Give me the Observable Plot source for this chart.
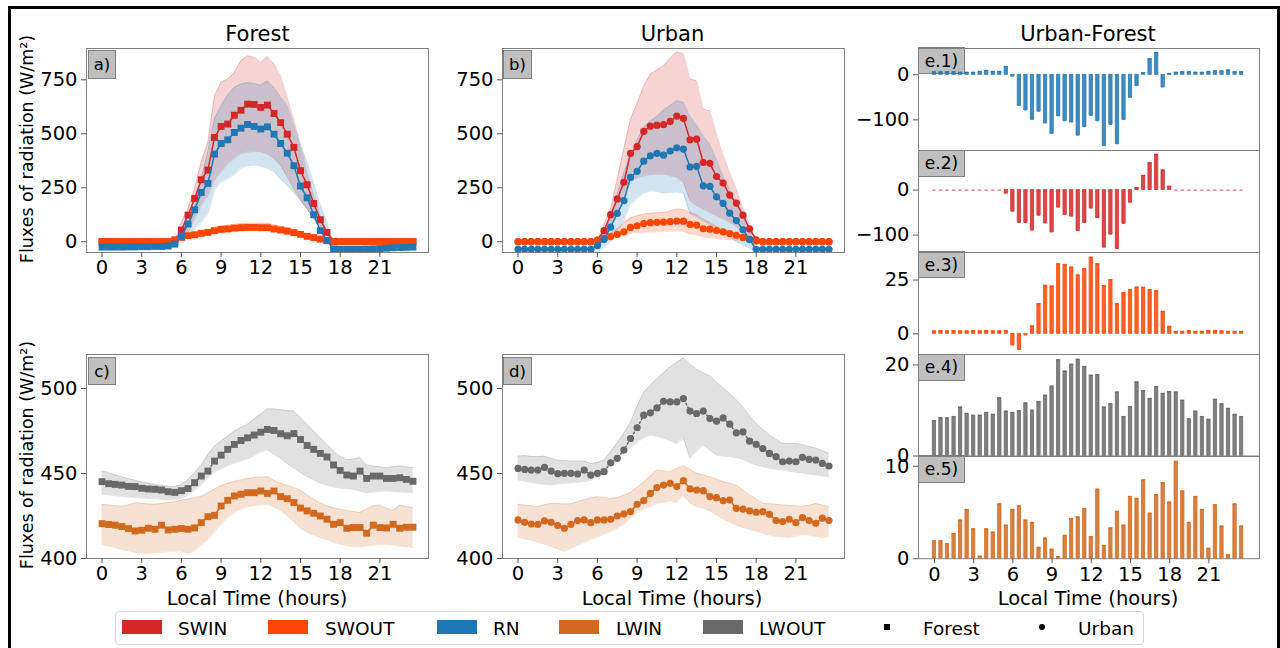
<!DOCTYPE html>
<html><head><meta charset="utf-8">
<script src="https://cdn.jsdelivr.net/npm/d3@7"></script>
<script src="https://cdn.jsdelivr.net/npm/@observablehq/plot@0.6"></script>
<style>
body{margin:0;background:#fff;}
#fig{position:relative;width:1280px;height:648px;overflow:hidden;background:#fff;font-family:"DejaVu Sans",sans-serif;color:#000;}
.lbl{position:absolute;background:#bfbfbf;border:1px solid #808080;box-sizing:border-box;font-size:17px;display:flex;align-items:center;justify-content:center;}
.t{position:absolute;white-space:nowrap;transform:translate(-50%,-50%);}
</style></head><body><div id="fig"></div>
<script>
// ---------- data ----------
const hours = [0,0.5,1,1.5,2,2.5,3,3.5,4,4.5,5,5.5,6,6.5,7,7.5,8,8.5,9,9.5,10,10.5,11,11.5,12,12.5,13,13.5,14,14.5,15,15.5,16,16.5,17,17.5,18,18.5,19,19.5,20,20.5,21,21.5,22,22.5,23,23.5];
const xTickValues = [0,3,6,9,12,15,18,21];

// Forest shortwave / net radiation
const forestSWIN   = [0,0,0,0,0,0,0,0,0,0,0,2, 54,123,200,287,332,483,534,545,586,609,637,636,622,633,594,552,498,437,329,264,177,102,43,2, 0,0,0,0,0,0,0,0,0,0,0,0];
const forestSWINlo = [0,0,0,0,0,0,0,0,0,0,0,0, 10,43,105,167,213,282,321,360,385,408,415,418,417,405,385,352,300,244,195,151,110,74,28,0, 0,0,0,0,0,0,0,0,0,0,0,0];
const forestSWINhi = [0,0,0,0,0,0,0,0,0,0,0,5, 90,155,244,370,460,676,738,753,784,838,861,853,830,858,822,768,668,568,444,321,213,120,43,5, 0,0,0,0,0,0,0,0,0,0,0,0];
const forestSWOUT   = [0,0,0,0,0,0,0,0,0,0,0,9, 20,28,32,39,43,51,57,59,63,65,66,66,65,65,59,54,49,42,34,25,19,12,5,0, 0,0,0,0,0,0,0,0,0,0,0,0];
const forestSWOUTlo = [0,0,0,0,0,0,0,0,0,0,0,6, 15,22,26,31,34,40,45,47,50,52,53,53,53,52,47,43,38,33,27,20,14,9,3,0, 0,0,0,0,0,0,0,0,0,0,0,0];
const forestSWOUThi = [0,0,0,0,0,0,0,0,0,0,0,12, 26,36,42,50,56,66,73,76,80,84,86,86,86,85,78,72,66,57,46,34,26,17,8,2, 0,0,0,0,0,0,0,0,0,0,0,0];
const forestRN   = [-25,-25,-25,-25,-24,-24,-23,-23,-22,-22,-20,-11, 25,82,148,228,270,406,455,472,506,526,543,534,522,532,498,455,410,352,258,203,125,51,5,-34, -36,-36,-36,-36,-35,-34,-32,-30,-28,-27,-26,-25];
const forestRNlo = [-33,-33,-33,-33,-32,-32,-31,-31,-30,-30,-29,-25, -10,12,55,90,128,240,275,290,310,340,352,355,350,340,325,290,260,228,190,151,105,59,10,-42, -45,-45,-45,-45,-44,-43,-41,-39,-37,-35,-34,-33];
const forestRNhi = [-17,-17,-17,-17,-16,-16,-15,-15,-14,-14,-12,0, 40,89,167,290,420,570,630,680,715,730,737,732,725,745,714,670,630,540,450,367,270,170,90,-20, -27,-27,-27,-27,-26,-25,-23,-21,-19,-18,-17,-17];

// Urban shortwave / net radiation
const urbanSWIN   = [0,0,0,0,0,0,0,0,0,0,0,0, 8,51,125,198,275,409,440,511,535,540,542,557,582,571,472,475,367,363,302,272,216,179,123,59, 9,0,0,0,0,0,0,0,0,0,0,0];
const urbanSWINlo = [0,0,0,0,0,0,0,0,0,0,0,0, 0,20,74,140,210,275,295,305,310,312,313,305,298,275,190,165,151,135,120,105,90,70,51,25, 0,0,0,0,0,0,0,0,0,0,0,0];
const urbanSWINhi = [0,0,0,0,0,0,0,0,0,0,0,0, 10,80,151,290,430,568,640,720,776,795,815,850,880,869,755,745,614,606,498,400,320,244,160,80, 5,0,0,0,0,0,0,0,0,0,0,0];
const urbanSWOUT   = [0,0,0,0,0,0,0,0,0,0,0,0, 8,15,24,34,46,66,74,84,88,90,91,93,96,95,80,77,60,58,52,46,38,30,20,11, 3,0,0,0,0,0,0,0,0,0,0,0];
const urbanSWOUTlo = [0,0,0,0,0,0,0,0,0,0,0,0, 4,8,12,18,28,38,42,43,45,46,46,48,51,48,35,30,22,18,15,12,9,6,4,2, 0,0,0,0,0,0,0,0,0,0,0,0];
const urbanSWOUThi = [0,0,0,0,0,0,0,0,0,0,0,0, 12,25,40,60,89,110,120,128,132,134,136,142,151,148,136,125,105,90,72,59,48,38,28,18, 8,0,0,0,0,0,0,0,0,0,0,0];
const urbanRN   = [-35,-35,-35,-35,-35,-35,-35,-35,-35,-35,-35,-35, -18,10,68,131,190,298,326,373,398,409,401,420,435,429,346,349,259,256,208,178,132,98,55,10, -35,-35,-35,-35,-35,-35,-35,-35,-35,-35,-35,-35];
const urbanRNlo = [-40,-40,-40,-40,-40,-40,-40,-40,-40,-40,-40,-40, -45,-30,0,40,100,170,200,225,235,232,225,228,230,225,130,115,95,80,60,40,20,0,-15,-30, -45,-40,-40,-40,-40,-40,-40,-40,-40,-40,-40,-40];
const urbanRNhi = [-30,-30,-30,-30,-30,-30,-30,-30,-30,-30,-30,-30, -10,40,120,220,320,400,470,530,560,580,610,630,653,645,580,540,491,450,380,305,240,175,105,51, -28,-30,-30,-30,-30,-30,-30,-30,-30,-30,-30,-30];

// Longwave
const forestLWOUT   = [445.2,444,443.6,443.2,442.4,442.3,441.3,440.9,440.7,440.3,439.3,438.9,439.9,441.1,444.6,448.5,451.4,457.3,460.8,464.2,467.1,469.4,471.0,472.6,474.3,475.9,475.3,473.4,472.2,473.5,470.0,466.5,464.2,461.8,459.7,455.0,451.8,449.1,448.5,451.4,447.1,448.5,448.5,447.1,447.1,447.5,446.5,445.4];
const forestLWOUTlo = [437.8,437.4,437,436.6,436.2,435.9,435.6,435.3,435.1,434.8,434.6,434.4,435.5,437.3,440,443,447,450.8,452.8,454.6,456,457.3,458.6,460.5,462.6,463.8,461.2,458.8,455.8,452.9,450.5,448.1,446.2,444.3,443.2,442.1,441.4,441,440.6,439.5,438.7,439,439.4,439.7,439.4,439.1,438.9,438.7];
const forestLWOUThi = [451.4,450.5,449.2,448,447,446,445,444.2,443.5,443,442.5,442.2,443.5,446.5,450.5,455,461,466,469,472,475,477,479,482,485,488,488,487.5,487,486.7,483,479,475,471,467,463,460,458,458.5,459.3,455,454.4,454,453.4,454,454.4,453.8,453.4];
const forestLWIN   = [420.5,420,419.6,418.8,417.6,416.2,416.6,417.8,417.2,419.6,416.8,417.2,417.6,417.2,418.0,421.1,424.6,425.4,430.9,434.2,436.8,437.8,438.7,438.7,439.7,438.3,439.7,436.4,435.2,432.9,429.7,428.0,426.6,425.0,423.1,420.1,421.1,417.8,418.2,418.2,414.9,419.6,418.2,418.0,420.1,417.8,418.4,418.4];
const forestLWINlo = [408.4,407.4,406.4,405.3,404.5,403.6,402.9,403.1,403.3,403.5,403.9,404.3,404.4,402.8,404.3,407.6,411,415.7,419.9,423.9,427.2,428.8,430.3,431.1,431.6,431.7,430.4,428.2,425.3,421.7,417.8,415.3,413.8,412.3,411,409.7,408.4,407.6,406.8,406.8,407.4,407.8,408.2,408.2,407.8,407.4,406.9,406.5];
const forestLWINhi = [431.9,431.5,431,430.8,431.5,432.8,432.5,432,431.9,432.3,432.8,433.3,434.2,435,435.8,436.6,438.5,440.8,442.8,444.2,445.4,446.2,447,447.6,447.8,448.1,446,444.2,443,441.8,440.2,437.5,435,432.5,431,429.8,428.9,428.2,427.6,427,429,431,431.5,429.5,428.2,431.5,430.5,429.9];

const urbanLWOUT   = [453.0,452.4,452.0,452.0,453.6,451.4,449.9,450.1,450.1,449.7,452.0,449.1,450.1,451.1,456.3,458.9,463.8,470.6,476.9,484.3,485.7,488.6,492.5,492.1,492.1,494.1,486.7,485.3,486.7,482.3,480.8,482.7,479.0,473.9,474.5,469.0,467.1,464.7,461.8,459.9,456.9,457.3,456.9,459.5,458.3,457.9,455.9,454.4];
const urbanLWOUTlo = [446.2,445.5,444.8,444.1,443.6,443.3,443.8,444.2,444.4,444.8,445.3,446,447.5,449.9,453.8,457.7,461.6,465.3,468.2,471,472.5,471.9,470.7,469.2,467.7,470.6,458.9,462.8,466.7,463.7,460.8,460.3,459.9,459.3,458.3,456.6,455,454,453,452.5,452,451.4,450.8,450.2,449.6,449.1,448.6,448.1];
const urbanLWOUThi = [460.2,460.5,460,459.9,460.2,459,457.8,457.5,457.3,457.3,457.3,455.9,456.5,457.8,462.8,467.9,473.7,480.2,489.5,497.8,501.8,505.8,509.2,512.7,515.4,518,514.6,511.3,509.3,507.5,503.8,500.5,497,493.5,489.1,484.2,479.4,476,472.6,470.2,467.7,467.7,467.7,466.9,465.9,464.9,463.5,461.8];
const urbanLWIN   = [422.7,421.3,420.3,420.1,422.1,421.3,419.4,417.8,420.1,422.3,422.7,421.1,422.7,422.7,423.1,425.0,426.2,427.6,431.9,434.0,438.3,441.7,443.2,444.2,442.3,445.8,440.9,440.3,439.9,436.4,435.8,434.0,434.4,429.5,429.1,428.0,427.2,427.6,426.0,422.3,421.7,423.1,421.1,424.1,422.3,420.7,423.7,422.3];
const urbanLWINlo = [412.3,411.5,410.7,409.6,408.3,407,405.6,404.1,405.9,407.7,409.4,411,412.6,414.3,415.9,417.5,420.2,423.6,427,428.9,430.8,432.2,433,433.8,432.9,436.8,432.6,430.5,429.5,428,425.5,423.3,421.4,419.6,418.3,417.1,416,414.9,413.8,413,412.6,412.4,413.2,414,413.7,413.1,412.3,413.3];
const urbanLWINhi = [431.9,431.4,430.9,430.6,431.6,432.4,432.3,432,432.2,433.4,434.6,435.6,436.3,435.8,435.3,435.9,437.1,438.9,441.8,444.9,448.6,452,451.5,451.1,452.9,454.6,452.4,450.1,449.1,448.1,446.7,445.2,444.2,443.2,440.3,437.4,435,432.5,432.2,431.8,431.5,431.2,430.9,430.6,431.3,432.3,431.5,430.5];

// Urban - Forest differences
const diffRN    = [6,6,6,6,5,5,5,7,9,7,7,18, -3,-68,-78,-99,-81,-107,-130,-91,-102,-105,-134,-115, -90,-102,-157,-110,-153,-99,-50,-24,4,35,49,-27, 2,5,6,6,5,5,7,8,8,10,6,6];
const diffSWIN  = [0,0,0,0,0,0,0,0,0,0,0,-7, -47,-72,-72,-89,-56,-73,-93,-38,-54,-58,-90,-72, -40,-61,-127,-98,-130,-74,-27,5,32,60,79,44, 8,0,0,0,0,0,0,0,0,0,0,0];
const diffSWOUT = [1.2,1.3,1.2,1.3,1.2,1.2,1.3,1.2,1.3,1.2,1.2,1.3, -5.2,-7.3,-0.5,3.5,13.9,22.4,22.1,32.4,32.1,30.9,27.2,30.1, 35.5,32.4,22.2,25,13.9,19,20.4,21.6,21.5,20.4,19.9,10.3, 3.4,1.0,1.0,1.4,1.0,1.0,1.4,1.4,1.2,1.0,1.0,1.0];
const diffLWOUT = [7.7,8.4,8.3,8.6,10.7,9.3,8.9,8.9,9.5,9.1,12.7,9.8, 9.5,9.9,11.6,10.0,11.9,13.3,15.3,21.1,18.6,20.1,21.2,19.6, 17.7,17.8,10.7,11.4,14.0,8.6,10.8,16.2,14.3,12.6,15.2,13.7, 14.1,14.0,12.2,8.1,9.8,8.6,8.0,12.4,11.4,10.4,9.1,8.6];
const diffLWIN  = [1.9,1.9,1.6,2.7,4.15,5.3,3.2,0.25,3.2,2.85,5.9,3.6, 5.3,5.7,4.15,3.9,1.2,2.2,1.0,0.18,2.5,4.3,4.5,5.4, 2.35,7.5,1.4,3.3,5.1,3.6,6.7,6.5,8.5,4.9,6.9,8.2, 6.1,10.5,7.3,3.9,6.7,5.3,1.1,5.8,3.5,0.4,5.9,3.5];

const seriesNames = ["SWIN","SWOUT","RN","LWIN","LWOUT"];
const colors = {SWIN:"#d62728", SWOUT:"#ff4500", RN:"#1f77b4", LWIN:"#d2691e", LWOUT:"#696969"};

// ---------- helpers ----------
const fig = document.getElementById("fig");
const FONT = "DejaVu Sans, sans-serif";
const fmt = d => d < 0 ? "\u2212" + Math.abs(d) : String(d);

function rows(mean, lo, hi){ return hours.map((t,i)=>({t, v:mean[i], lo: lo?lo[i]:null, hi: hi?hi[i]:null})); }

function addText(txt, x, y, size, extra){
  const d = document.createElement("div");
  d.className = "t"; d.textContent = txt;
  d.style.left = x+"px"; d.style.top = y+"px"; d.style.fontSize = size+"px";
  if (extra) d.style.transform = extra;
  fig.appendChild(d); return d;
}
function addBox(txt, l, t, w, h, size){
  const d = document.createElement("div");
  d.className = "lbl"; d.textContent = txt;
  Object.assign(d.style,{left:l+"px",top:t+"px",width:w+"px",height:h+"px",fontSize:size+"px"});
  fig.appendChild(d);
}

function panel(o){
  const mL = 70, mR = 6, mT = 6, mB = o.xAxis ? 36 : 6;
  const marks = [...o.marks, Plot.frame({stroke:"#808080", strokeWidth:1})];
  marks.push(Plot.axisY({ticks:o.yTicks, tickSize:5, tickPadding:4, stroke:"#555", label:null, tickFormat:fmt}));
  if (o.xAxis) marks.push(Plot.axisX({ticks:xTickValues, tickSize:5, tickPadding:3, stroke:"#555", label:null, tickFormat:d=>String(d)}));
  const svg = Plot.plot({
    width: o.w + mL + mR, height: o.h + mT + mB,
    marginLeft: mL, marginRight: mR, marginTop: mT, marginBottom: mB,
    x: {domain: o.xd, axis: null},
    y: {domain: o.yd, axis: null},
    style: {fontFamily: FONT, fontSize: "19.5px", background: "transparent", overflow: "visible", color: "black"},
    marks
  });
  svg.style.position = "absolute";
  svg.style.left = (o.l - mL) + "px";
  svg.style.top = (o.t - mT) + "px";
  fig.appendChild(svg);
}

function bandMarks(list){
  const m = [];
  for (const s of list){
    const c = colors[s.name];
    m.push(Plot.areaY(s.data, {x:"t", y1:"lo", y2:"hi", fill:c, fillOpacity:0.2}));
    m.push(Plot.line(s.data, {x:"t", y:"hi", stroke:c, strokeOpacity:0.18, strokeWidth:1}));
    m.push(Plot.line(s.data, {x:"t", y:"lo", stroke:c, strokeOpacity:0.18, strokeWidth:1}));
  }
  return m;
}
function lineMarks(list, symbol){
  const m = [];
  for (const s of list){
    const c = colors[s.name];
    m.push(Plot.line(s.data, {x:"t", y:"v", stroke:c, strokeWidth:1.5, strokeDasharray: s.dash || null}));
    m.push(Plot.dot(s.data, {x:"t", y:"v", fill:c, stroke:"none", symbol, r: symbol==="square" ? 3.9 : 3.6}));
  }
  return m;
}
function barMarks(vals, name){
  const c = colors[name];
  const data = hours.map((t,i)=>({t, v: vals[i]}));
  return [
    Plot.rect(data, {x1: d=>d.t-0.13, x2: d=>d.t+0.13, y1: 0, y2: "v", fill:c, fillOpacity:0.85, stroke:c, strokeOpacity:0.85, strokeWidth:0.8}),
    // bar outline edges (visible also for zero-height bars, as in the reference)
    Plot.ruleY(data, {x1: d=>d.t-0.13, x2: d=>d.t+0.13, y: "v", stroke:c, strokeOpacity:0.85, strokeWidth:1})
  ];
}

// ---------- figure border ----------
const border = document.createElement("div");
Object.assign(border.style,{position:"absolute",left:"8px",top:"6px",width:"1272px",height:"720px",boxSizing:"border-box",borderTop:"3px solid #000",borderLeft:"3px solid #000",borderRight:"3px solid #000"});
fig.appendChild(border);

// ---------- panel label boxes (under the data) ----------
addBox("a)", 88, 50, 28, 29, 16.5);
addBox("b)", 503, 50, 29, 29, 16.5);
addBox("c)", 88, 357, 28, 28, 16.5);
addBox("d)", 503, 357, 29, 28, 16.5);
addBox("e.1)", 918, 47, 47, 27, 17);
addBox("e.2)", 918, 149.5, 47, 27, 17);
addBox("e.3)", 918, 251, 47, 27, 17);
addBox("e.4)", 918, 353.5, 47, 27, 17);
addBox("e.5)", 918, 455, 47, 28, 17);

// ---------- panels ----------
const xdMain = [-1.175, 24.675];
const xdE = [-1.22, 24.87];

const fSW = [
  {name:"SWIN", data: rows(forestSWIN, forestSWINlo, forestSWINhi)},
  {name:"SWOUT", data: rows(forestSWOUT, forestSWOUTlo, forestSWOUThi)},
  {name:"RN", data: rows(forestRN, forestRNlo, forestRNhi)}
];
const uSW = [
  {name:"SWIN", data: rows(urbanSWIN, urbanSWINlo, urbanSWINhi)},
  {name:"SWOUT", data: rows(urbanSWOUT, urbanSWOUTlo, urbanSWOUThi)},
  {name:"RN", data: rows(urbanRN, urbanRNlo, urbanRNhi)}
];
const fLW = [
  {name:"LWIN", data: rows(forestLWIN, forestLWINlo, forestLWINhi)},
  {name:"LWOUT", data: rows(forestLWOUT, forestLWOUTlo, forestLWOUThi), dash:"1.5,2.5"}
];
const uLW = [
  {name:"LWIN", data: rows(urbanLWIN, urbanLWINlo, urbanLWINhi)},
  {name:"LWOUT", data: rows(urbanLWOUT, urbanLWOUTlo, urbanLWOUThi), dash:"1.5,2.5"}
];

panel({l:86, t:48, w:342, h:204, xd:xdMain, yd:[-50, 895], yTicks:[0,250,500,750], xAxis:true,
  marks:[...bandMarks(fSW), ...lineMarks(fSW, "square")]});
panel({l:502, t:48, w:342, h:204, xd:xdMain, yd:[-50, 895], yTicks:[0,250,500,750], xAxis:true,
  marks:[...bandMarks(uSW), ...lineMarks(uSW, "circle")]});
panel({l:86, t:354, w:342, h:204, xd:xdMain, yd:[400, 520], yTicks:[400,450,500], xAxis:true,
  marks:[...bandMarks(fLW), ...lineMarks(fLW, "square")]});
panel({l:502, t:354, w:342, h:204, xd:xdMain, yd:[400, 520], yTicks:[400,450,500], xAxis:true,
  marks:[...bandMarks(uLW), ...lineMarks(uLW, "circle")]});

panel({l:918, t:48, w:341, h:102, xd:xdE, yd:[-168, 58.4], yTicks:[0,-100], xAxis:false, marks: barMarks(diffRN, "RN")});
panel({l:918, t:150, w:341, h:102, xd:xdE, yd:[-138.7, 88], yTicks:[0,-100], xAxis:false, marks: barMarks(diffSWIN, "SWIN")});
panel({l:918, t:252, w:341, h:102, xd:xdE, yd:[-9.6, 37.8], yTicks:[0,25], xAxis:false, marks: barMarks(diffSWOUT, "SWOUT")});
panel({l:918, t:354, w:341, h:101.5, xd:xdE, yd:[0, 22.3], yTicks:[0,20], xAxis:false, marks: barMarks(diffLWOUT, "LWOUT")});
panel({l:918, t:455.5, w:341, h:102.2, xd:xdE, yd:[0, 11.06], yTicks:[0,10], xAxis:true, marks: barMarks(diffLWIN, "LWIN")});

// ---------- titles & axis labels ----------
addText("Forest", 257.5, 34, 21);
addText("Urban", 672.5, 34, 21);
addText("Urban-Forest", 1088, 34, 21);
addText("Fluxes of radiation (W/m\u00b2)", 27, 149, 17.5, "translate(-50%,-50%) rotate(-90deg)");
addText("Fluxes of radiation (W/m\u00b2)", 27, 455, 17.5, "translate(-50%,-50%) rotate(-90deg)");
addText("Local Time (hours)", 257, 598, 19.5);
addText("Local Time (hours)", 672, 598, 19.5);
addText("Local Time (hours)", 1088, 598, 19.5);

// ---------- legend ----------
const leg = document.createElement("div");
Object.assign(leg.style,{position:"absolute",left:"115px",top:"611px",width:"1029px",height:"34px",border:"1px solid #d9d9d9",borderRadius:"4px",boxSizing:"border-box",background:"#fff"});
fig.appendChild(leg);
const patchX = [122, 268, 437, 559, 703];
const textX  = [178, 325, 493, 616, 759];
seriesNames.forEach((n,i)=>{
  const p = document.createElement("div");
  Object.assign(p.style,{position:"absolute",left:patchX[i]+"px",top:"620px",width:"40px",height:"14px",background:colors[n]});
  fig.appendChild(p);
  addText(n, textX[i], 627.5, 18.5, "translate(0,-50%)");
});
const sq = document.createElement("div");
Object.assign(sq.style,{position:"absolute",left:"884px",top:"624px",width:"6px",height:"6px",background:"#000"});
fig.appendChild(sq);
const ci = document.createElement("div");
Object.assign(ci.style,{position:"absolute",left:"1039px",top:"624px",width:"6px",height:"6px",background:"#000",borderRadius:"50%"});
fig.appendChild(ci);
addText("Forest", 923, 627.5, 18.5, "translate(0,-50%)");
addText("Urban", 1078, 627.5, 18.5, "translate(0,-50%)");
</script></body></html>
